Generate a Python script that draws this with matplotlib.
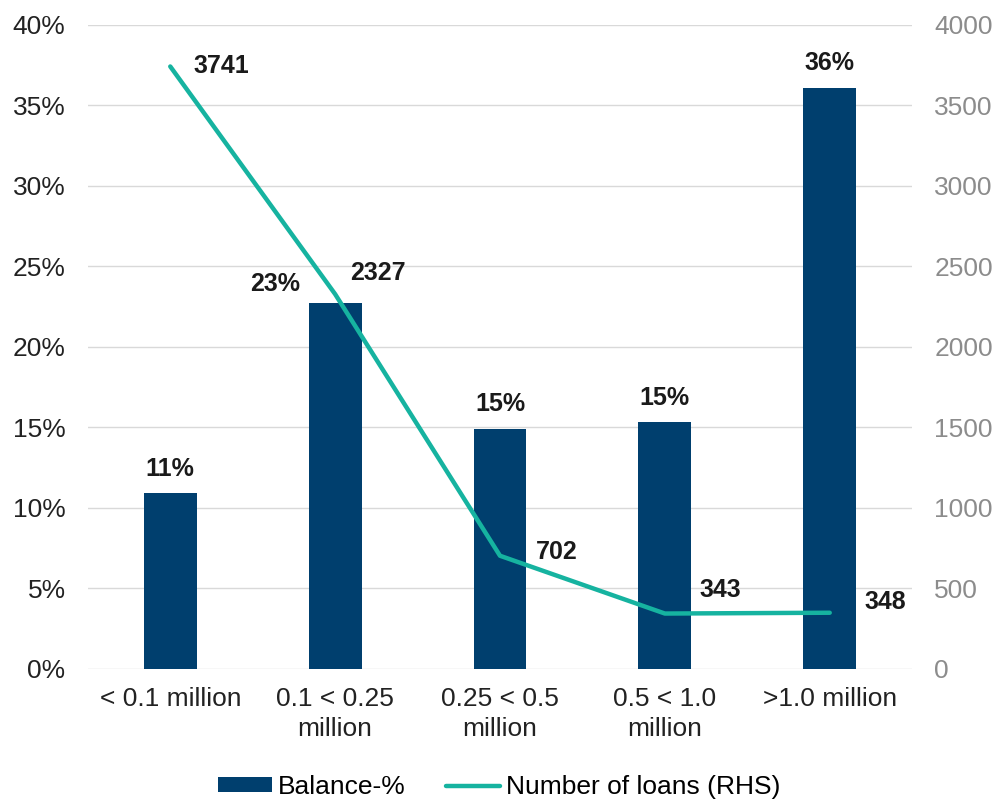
import numpy as np
import matplotlib.pyplot as plt
from matplotlib.ticker import FuncFormatter

plt.rcParams['font.family'] = ['Liberation Sans', 'DejaVu Sans']

# Data
categories = ["< 0.1 million", "0.1 < 0.25\nmillion", "0.25 < 0.5\nmillion",
              "0.5 < 1.0\nmillion", ">1.0 million"]
balance_pct = [10.9, 22.7, 14.9, 15.3, 36.1]
balance_labels = ["11%", "23%", "15%", "15%", "36%"]
num_loans = [3741, 2327, 702, 343, 348]

bar_color = '#003f6e'
line_color = '#16b3a0'
fs = 19
fs_bold = 18

fig = plt.figure(figsize=(9.98, 7.99), dpi=100)
ax = fig.add_axes([0.088, 0.163, 0.826, 0.806])
ax2 = ax.twinx()

x = np.arange(len(categories))
bars = ax.bar(x, balance_pct, width=0.32, color=bar_color, label='Balance-%', zorder=2)
line, = ax2.plot(x, num_loans, color=line_color, lw=3.2, solid_capstyle='round',
                 label='Number of loans (RHS)', zorder=3)

ax.set_xlim(-0.5, 4.5)
ax.set_ylim(0, 40)
ax.set_yticks(np.arange(0, 41, 5))
ax.yaxis.set_major_formatter(FuncFormatter(lambda v, p: f"{v:.0f}%"))
ax2.set_ylim(0, 4000)
ax2.set_yticks(np.arange(0, 4001, 500))

ax.grid(axis='y', color='#d9d9d9', lw=1, zorder=0)
ax.set_axisbelow(True)
ax2.set_zorder(ax.get_zorder() + 1)
ax2.patch.set_visible(False)

for a in (ax, ax2):
    for s in a.spines.values():
        s.set_visible(False)
    a.tick_params(length=0)

ax.set_xticks(x)
ax.set_xticklabels(categories, fontsize=fs, color='#222222', linespacing=1.3)
ax.tick_params(axis='x', pad=13)
ax.tick_params(axis='y', labelsize=fs, labelcolor='#222222', pad=16)
ax2.tick_params(axis='y', labelsize=fs, labelcolor='#8c8c8c', pad=16)

# bar value labels
for i, (v, lab) in enumerate(zip(balance_pct, balance_labels)):
    if i == 1:
        ax.annotate(lab, (x[i] - 0.16, v), xytext=(-6, 5), textcoords='offset points',
                    ha='right', va='bottom', fontsize=fs_bold, fontweight='bold', color='#1a1a1a')
    else:
        ax.annotate(lab, (x[i], v), xytext=(0, 9), textcoords='offset points',
                    ha='center', va='bottom', fontsize=fs_bold, fontweight='bold', color='#1a1a1a')

# line value labels
line_offsets = [(17, 0), (11, 15), (26, 3), (25, 17), (25, 8)]
for i, (v, off) in enumerate(zip(num_loans, line_offsets)):
    ax2.annotate(str(v), (x[i], v), xytext=off, textcoords='offset points',
                 ha='left', va='center', fontsize=fs_bold, fontweight='bold', color='#1a1a1a')

fig.legend(handles=[bars, line], loc='center', bbox_to_anchor=(0.5, 0.015),
           ncol=2, frameon=False, fontsize=fs, handlelength=2.05, handleheight=0.5,
           columnspacing=1.55, handletextpad=0.2, borderpad=0)

fig.savefig('out.png', dpi=100)
